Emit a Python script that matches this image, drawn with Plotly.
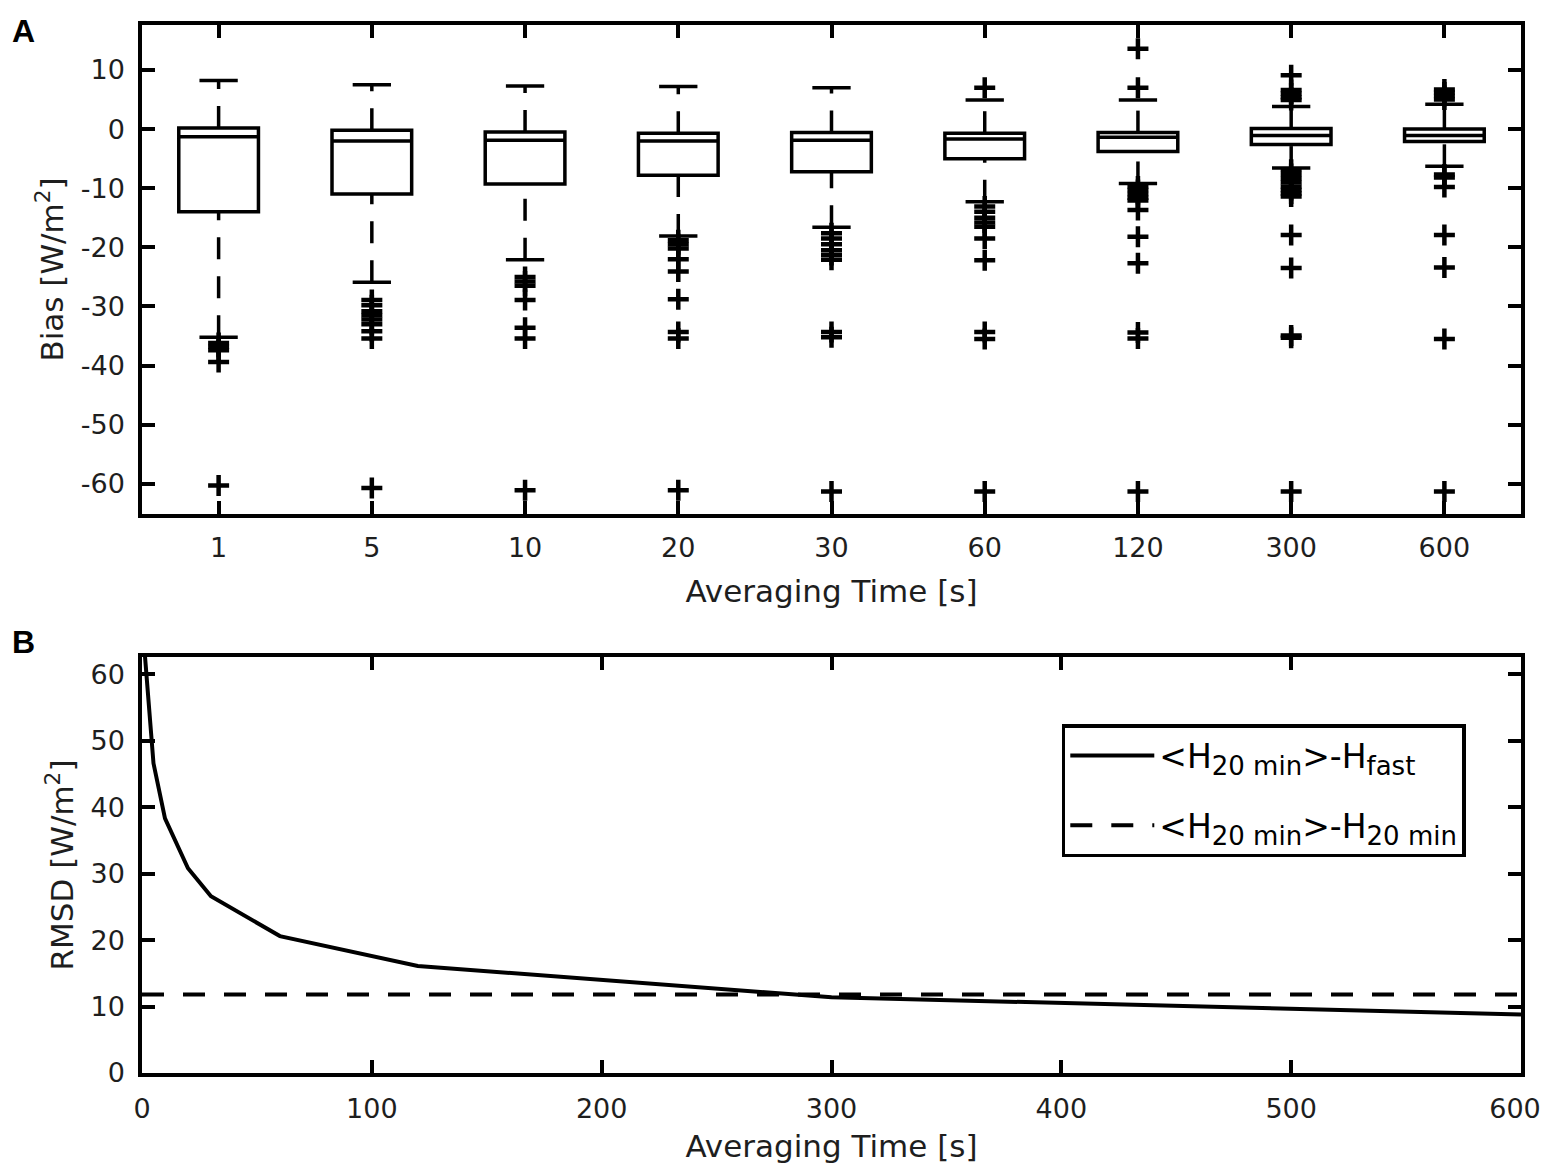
import plotly.graph_objects as go

# ---------------- Panel A data (box plot statistics, W/m^2) ----------------
categories = ["1", "5", "10", "20", "30", "60", "120", "300", "600"]
upper_whisker = [8.2, 7.5, 7.3, 7.2, 7.0, 4.9, 4.9, 3.8, 4.2]
q3 = [0.2, -0.2, -0.5, -0.7, -0.6, -0.7, -0.6, 0.1, 0.0]
median = [-1.3, -2.0, -1.9, -2.0, -1.9, -1.7, -1.4, -1.1, -1.1]
q1 = [-14.0, -11.0, -9.3, -7.8, -7.2, -5.0, -3.8, -2.6, -2.1]
lower_whisker = [-35.2, -25.9, -22.1, -18.1, -16.6, -12.3, -9.2, -6.6, -6.3]
outliers = [
    [-36.2, -36.8, -37.4, -39.4, -60.3],
    [-28.9, -29.8, -30.8, -31.5, -32.2, -33.0, -34.2, -35.4, -60.7],
    [-25.0, -25.8, -26.5, -28.9, -33.6, -35.4, -61.1],
    [-18.8, -19.5, -20.2, -22.0, -24.1, -28.8, -34.3, -35.4, -61.1],
    [-17.6, -18.5, -19.5, -20.5, -21.3, -22.1, -34.3, -35.2, -61.3],
    [7.0, -13.1, -14.0, -15.0, -15.8, -16.5, -18.5, -22.2, -34.3, -35.5, -61.3],
    [13.6, 7.0, -9.7, -10.3, -11.0, -11.6, -12.1, -13.7, -18.2, -22.7, -34.4, -35.4, -61.3],
    [9.1, 6.6, 6.0, 5.4, 4.9, -6.9, -7.6, -8.3, -9.0, -9.7, -10.3, -10.9, -11.4,
     -17.9, -23.5, -34.9, -35.3, -61.3],
    [6.7, 6.2, 5.6, 5.0, -7.7, -8.2, -9.8, -17.9, -23.4, -35.5, -61.3],
]
bias_ticks = [-60, -50, -40, -30, -20, -10, 0, 10]

# ---------------- Panel B data (RMSD, W/m^2) ----------------
avg_time = [1, 5, 10, 20, 30, 60, 120, 300, 600]
rmsd_fast = [64.0, 46.6, 38.3, 30.8, 26.6, 20.6, 16.1, 11.4, 8.8]
rmsd_20min = [11.8, 11.8, 11.8, 11.8, 11.8, 11.8, 11.8, 11.8, 11.8]
rmsd_ticks = [0, 10, 20, 30, 40, 50, 60]
time_ticks = [0, 100, 200, 300, 400, 500, 600]

SUB = '<sub><span style="font-size:26px">%s</span></sub>'
name_fast = "&lt;H" + SUB % "20 min" + "&gt;-H" + SUB % "fast"
name_20 = "&lt;H" + SUB % "20 min" + "&gt;-H" + SUB % "20 min"

FONT = "DejaVu Sans"
TXT = "#1e1e1e"
LW = 3.5
BOX_W = 0.52
CAP_HALF = 0.125
pos = list(range(len(categories)))

fig = go.Figure()

# whiskers (dashed), drawn from lower value to higher value
for i in pos:
    for lo, hi in ((lower_whisker[i], q1[i]), (q3[i], upper_whisker[i])):
        fig.add_trace(go.Scatter(
            x=[pos[i], pos[i]], y=[lo, hi], mode="lines",
            line=dict(color="black", width=LW, dash="22px,17px"),
            showlegend=False, hoverinfo="skip", xaxis="x", yaxis="y"))

# boxes
fig.add_trace(go.Box(
    x=pos, q1=q1, median=median, q3=q3, lowerfence=q1, upperfence=q3,
    orientation="v", width=BOX_W, whiskerwidth=0, boxpoints=False,
    line=dict(color="black", width=LW), fillcolor="rgba(255,255,255,0)",
    showlegend=False, xaxis="x", yaxis="y"))

# whisker caps
cap_x, cap_y = [], []
for i in pos:
    for v in (lower_whisker[i], upper_whisker[i]):
        cap_x += [pos[i] - CAP_HALF, pos[i] + CAP_HALF, None]
        cap_y += [v, v, None]
fig.add_trace(go.Scatter(
    x=cap_x, y=cap_y, mode="lines", line=dict(color="black", width=LW),
    showlegend=False, hoverinfo="skip", xaxis="x", yaxis="y"))

# outliers
ox, oy = [], []
for i in pos:
    ox += [pos[i]] * len(outliers[i])
    oy += outliers[i]
fig.add_trace(go.Scatter(
    x=ox, y=oy, mode="markers",
    marker=dict(symbol="cross-thin", size=15, line=dict(color="black", width=4.5)),
    showlegend=False, hoverinfo="skip", xaxis="x", yaxis="y"))

# Panel B lines
fig.add_trace(go.Scatter(
    x=avg_time, y=rmsd_fast, mode="lines", name=name_fast, legendgroup="a",
    line=dict(color="black", width=4), xaxis="x2", yaxis="y2"))
fig.add_trace(go.Scatter(
    x=[0] + avg_time, y=[rmsd_20min[0]] + rmsd_20min, mode="lines", name=name_20,
    legendgroup="b",
    line=dict(color="black", width=4, dash="22px,19px"), xaxis="x3", yaxis="y2"))

axis_common = dict(
    showline=True, linecolor="black", linewidth=LW, mirror="ticks",
    ticks="inside", ticklen=13, tickwidth=LW, tickcolor="black",
    showgrid=False, zeroline=False, automargin=False,
    tickfont=dict(family=FONT, size=27, color=TXT),
)

fig.update_layout(
    width=1534, height=1156,
    margin=dict(l=134, r=21, t=17, b=91),
    paper_bgcolor="white", plot_bgcolor="white",
    font=dict(family=FONT, color=TXT),
    xaxis=dict(domain=[0, 1], anchor="y", range=[-0.5, 8.5],
               tickvals=pos, ticktext=categories, ticklabelstandoff=7,
               title=dict(text="Averaging Time [s]", standoff=19,
                          font=dict(family=FONT, size=31, color=TXT)),
               **axis_common),
    yaxis=dict(domain=[0.5334, 1], anchor="x", range=[-65.1, 17.6],
               tickvals=bias_ticks, ticktext=[str(t) for t in bias_ticks],
               ticklabelstandoff=8,
               title=dict(text="Bias [W/m<sup>2</sup>]", standoff=9,
                          font=dict(family=FONT, size=31, color=TXT)),
               **axis_common),
    xaxis2=dict(domain=[0, 1], anchor="y2", range=[0, 600],
                tickvals=time_ticks,
                ticktext=[str(t) for t in time_ticks[:-1]] + [""],
                ticklabelstandoff=9,
                title=dict(text="Averaging Time [s]", standoff=20,
                           font=dict(family=FONT, size=31, color=TXT)),
                **axis_common),
    # companion axis carrying only the last tick label, nudged to stay on the page
    xaxis3=dict(overlaying="x2", anchor="y2", side="bottom", range=[0, 600],
                tickvals=time_ticks[-1:], ticktext=[str(time_ticks[-1])],
                ticklabelstandoff=9, ticklabelshift=-6,
                showline=True, linecolor="black", linewidth=LW,
                ticks="inside", ticklen=13, tickwidth=LW,
                tickcolor="rgba(0,0,0,0)",
                showgrid=False, zeroline=False, automargin=False,
                tickfont=dict(family=FONT, size=27, color=TXT)),
    yaxis2=dict(domain=[0, 0.397], anchor="x2", range=[0, 62.6],
                tickvals=rmsd_ticks, ticktext=[str(t) for t in rmsd_ticks],
                ticklabelstandoff=8,
                title=dict(text="RMSD [W/m<sup>2</sup>]", standoff=9,
                           font=dict(family=FONT, size=31, color=TXT)),
                **axis_common),
    legend=dict(x=0.667, y=0.333, xanchor="left", yanchor="top",
                bgcolor="white", bordercolor="black", borderwidth=3.5,
                font=dict(family=FONT, size=33, color="black"),
                tracegroupgap=24, itemwidth=84),
    annotations=[
        dict(text="<b>A</b>", xref="paper", yref="paper", x=-0.0955, y=1.013,
             xanchor="left", yanchor="top", showarrow=False,
             font=dict(family="Liberation Sans", size=32, color="black")),
        dict(text="<b>B</b>", xref="paper", yref="paper", x=-0.0955, y=0.43,
             xanchor="left", yanchor="top", showarrow=False,
             font=dict(family="Liberation Sans", size=32, color="black")),
    ],
)

fig.write_html("out.html", config={"displayModeBar": False})
